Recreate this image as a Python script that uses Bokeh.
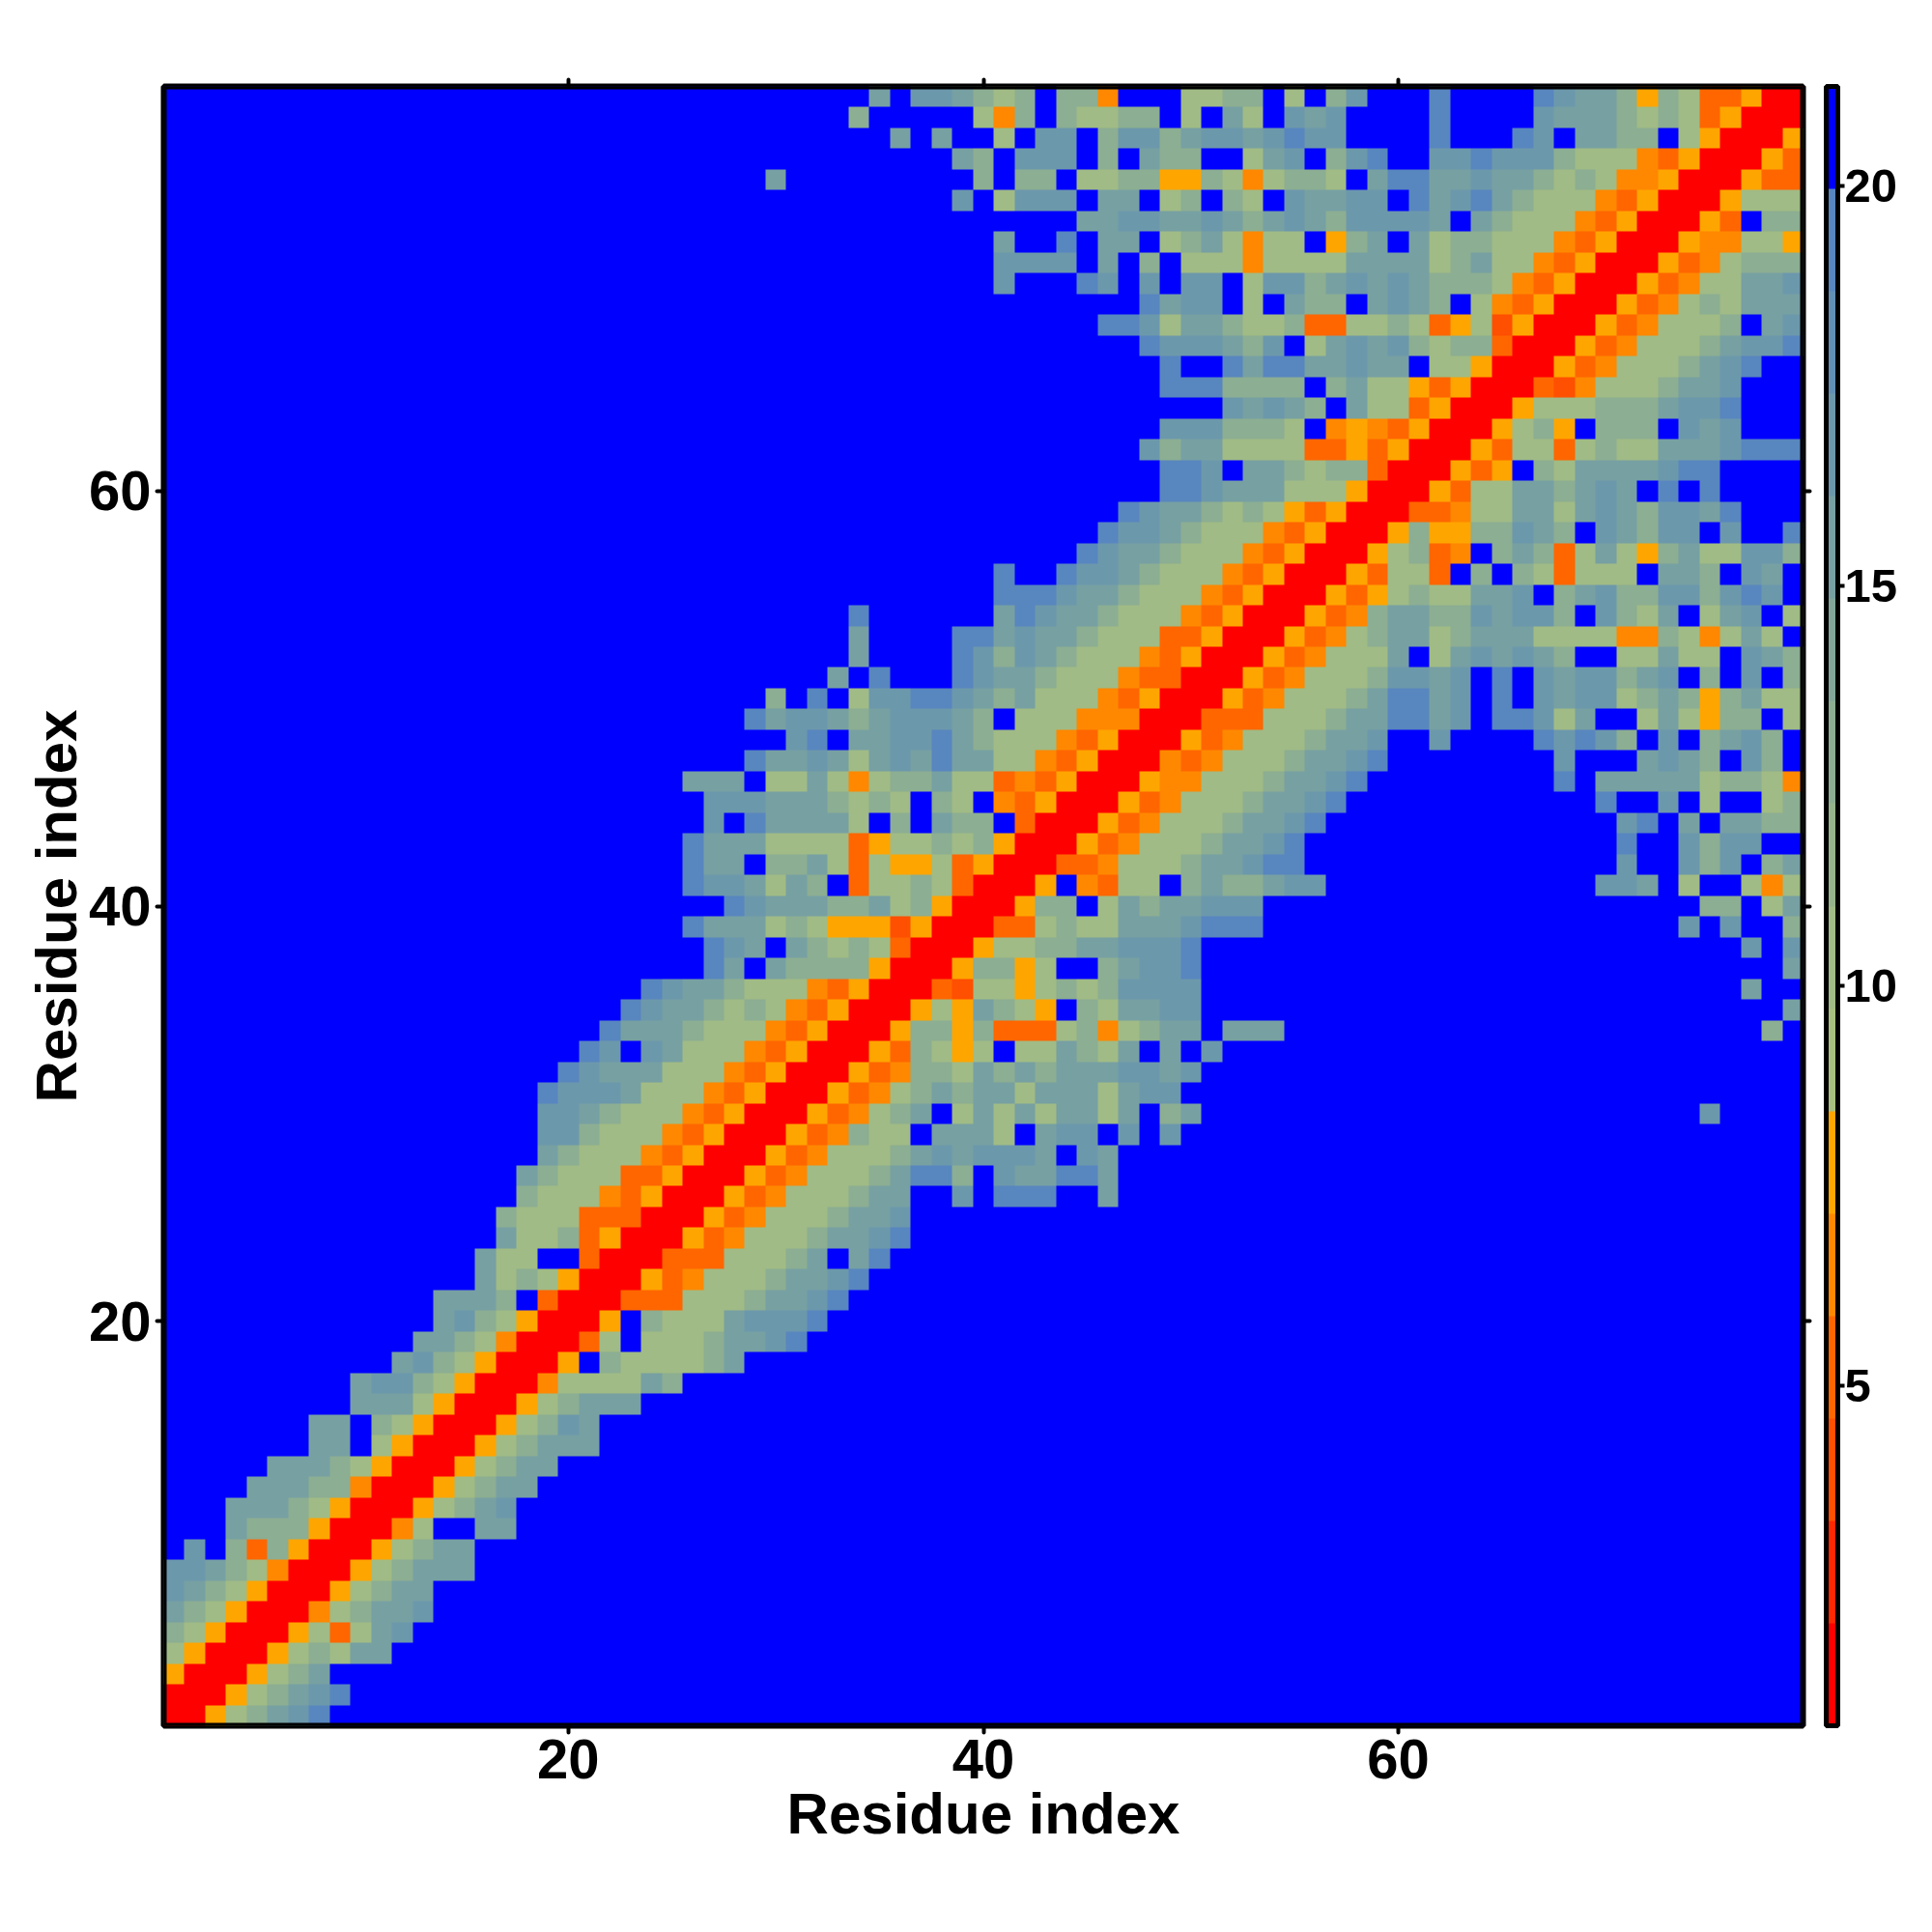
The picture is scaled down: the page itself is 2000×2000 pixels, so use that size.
from bokeh.plotting import figure
from bokeh.models import LinearAxis, FixedTicker, ColorBar, LinearColorMapper, BoxAnnotation
from bokeh.embed import file_html
from bokeh.resources import INLINE
import numpy as np

n_residues = 79
axis_ticks = [20, 40, 60]
colorbar_ticks = [5, 10, 15, 20]
axis_title = "Residue index"

palette = ["#ff0000", "#ff2800", "#ff4f00", "#ff6600", "#ff8800", "#ffa500",
           "#a8c07f", "#a0bb85", "#96b48b", "#8cae92", "#82a79a", "#77a0a3",
           "#6c98ac", "#6290b4", "#5886bf", "#0000ff"]
scale_low = 0.74
scale_high = 21.25

# letter -> distance value read against the colour bar
level_values = {"R": 1.38, "r": 3.95, "o": 5.2, "m": 6.5, "a": 7.8,
                "G": 10.3, "H": 12.9, "I": 15.5, "J": 16.8, "K": 19.3, ".": 20.6}

# residue on the y axis: (first residue on the x axis that is written, cells)
rows = {
79: (35, "I.JJIHGH.HHm...GGHH.G.HJ...K....KJIIHaHGooaRR"),
78: (34, "H.....GmH.HGGHH.G.IG.JIJ....K....JIIIHGHGoaRRR"),
77: (36, "I.I..G.JJ.HJJHIJJIJKJJ....K...KJ.IIHH.GaRRRa"),
76: (39, "IH.JJJ.H.IHH..GIJ.HJK..JJKJJJHGGGmoaRRRao"),
75: (30, "I.........H.HH.GGHHaaHGmGHHG.IKKIIJIIHGHGmmaRRRaoo"),
74: (39, "J.GJJJ.II.GH.HG.JIIJJ.KIJKIHGGGmoaRRRaGGG"),
73: (45, "IIJJIIJIHIJIHJJJJI.IHGGGmoaRRRao.HH"),
72: (41, "I..K.II.GHIGmGG.aHI.IGHHGGGmoaRRRammGGa"),
71: (41, "JJJJ.I.H.GGGmGGGGIIIIGHIGGmoaRRRaomGHHH"),
70: (41, "J...KJ.J.JJ.GJJHIJIJIHHHGmoaRRRaomGGIIJ"),
69: (48, "KIJJ.G.IHH.IJIH.GmoaRRRaomGHGIII"),
68: (46, "KKJGIIHGGHooGGHGoaGraRRRaomGGGH.IJ"),
67: (48, "KJJJIHJ.GIJIJHGHHoRRRaomGGGHIJJK"),
66: (49, "K..KIKKIIJII.GGaRRRaomGGGHIJK.."),
65: (49, "KKKHHHH.HIGGaoaRRRormGGGHIIJ..."),
64: (52, "JIJIH.IGGoaRRRaGGGHHHIJJK..."),
63: (49, "JJJHHHG.mamoaRRRaGHa.HHH.JIJ..."),
62: (48, "JHIIGGGGooaoaRRRaoGGoGHGGIIIJKKK"),
61: (49, "KKJ.IIHGHHoRRRaoa.HGIIIIJKK...."),
60: (49, "KKJIIIGGGaRRRaoGGIIHIJI.K.K...."),
59: (47, "KJIIHGHGaoaRRRoomGGIIGIJIHJJIK..."),
58: (46, "KJJIHGGGmoaRRRaHaaHHJIH.JIHJJ.J..K"),
57: (45, "KJIIHGGGmoaRRRaGHom.HIHoGIGaHIGGJJH"),
56: (41, "K..KJJIHGGGmoaRRRaoGGo.H.HGoGGG.IIH.JI."),
55: (41, "KKKJIIHGGGmoaRRRaoaGHGGIIJ.HIJHHJJHJKJ."),
54: (34, "K......IKJIIHGGGmoaRRRaomHIIHHJIJJH.JHGI.GIJ.G"),
53: (34, "I....KKIJIIHGGGooaRRRaomGHIIGHIIIGGGGmmHGmGIG."),
52: (34, "I....KJHJIHGGGmoaRRRaomGGGI.GIJIJIH..GGIGG.JIH"),
51: (33, "I.K...KJIIHGGGmooRRRaomGGGHJJIJ.K.JIJJHIJ.H.J.H"),
50: (30, "H.K.GJJKKJIHIGGGmoaRRRaomGGGHIKKIJ.K.JIJJGHIHaHIGG"),
49: (29, "KIJJIHIJJJIH.GGGmmmRRRoooGGGHIIKKIJ.KKJGI..GIGaHH.G"),
48: (31, "JK.IIJJKIHGGGmoaRRRaomGGGHIIJ..J....KJKJH.J.HIJH."),
47: (29, "KIIJIGIJIKIIGGmoaRRRmomGGGHIIJK........J...IJIH.JH."),
46: (26, "III.GGIGmGHHIGGomoaRRRammGGGHIIJK.........K.IIIIIGHHGm"),
45: (27, "JJJIIIHGHG.HG.moaRRRaomGGGHIIJK" + "." * 12 + "K..J.G..GH"),
44: (27, "J.KIIIIG.H.IHH.oRRRaomGGGHIIJK" + "." * 14 + "JK.I.IIHH"),
43: (26, "KIIIGGGGoaGGHGHaRRRaomGGGHIIJK" + "." * 15 + "K..JHJJ.."),
42: (26, "KII.HHIGoGaaGoaRRRoomGGGHIIJKK" + "." * 15 + "J..JHJ.HI"),
41: (26, "KJJIGIH.oGGHGoRRRa.moGG.HIHHIJJ" + "." * 13 + "JJI.G..GmG"),
40: (28, "KJIIIHHIGHaRRRaHH.GIHIIJJJ" + "." * 21 + "HH.GI"),
39: (26, "KIIIGHGaaaraRRRooGHGGIIIJKKK" + "." * 20 + "J.J..H"),
38: (27, "KJI.IHGHGoRRRaGGHHIIJJJK" + "." * 26 + "J.J"),
37: (27, "KI.IHHHHaRRRaHHaG..HIJJK" + "." * 28 + "I"),
36: (24, "KJIIHGGGmoaRRRorGGaGHGHJJJJ" + "." * 26 + "I.."),
35: (23, "KJIIHGHGmoaRRRaGaIHGa.HGIIJJ" + "." * 28 + "I"),
34: (22, "KIIIHGGGmoaRRRaHHaHoooGHmGHII.III" + "." * 23 + "H."),
33: (21, "KJ.JIGGGmoaRRRaoHGaG.GGIHGI.I.J"),
32: (20, "KJIIIGGGmoaRRRaomHHGIHIHIIIJJIJ"),
31: (19, "KJJJIGGGmoaRRRaomGHIHIIGIIIGIJJ"),
30: (19, "JJIHGGGmoaRRRaomGHI.GIGIGIIGI.HI" + "." * 24 + "J...."),
29: (19, "JJHGGGmoaRRRaomHGG.IIIG.IJJ.J.J"),
28: (19, "IHGGGmoaRRRaomGGGHIJIJJJI.JI"),
27: (18, "IHGGGooaRRRaomGGGHIKKH.JIIKKI"),
26: (18, "HGGGmoaRRRaomGGGHII..J.KKK..I"),
25: (17, "HGGGoooRRRaomGGGHIIJ"),
24: (17, "IGGHoaRRRaomGGGHIIJK"),
23: (16, "IGG..oRRRoooGGGHI.IK"),
22: (16, "IGHGaRRRaomGGGHIIJK"),
21: (14, "IIIH.oRRRoooGGGHIIJK"),
20: (14, "IJHGaRRRa.HGGGIJJJK"),
19: (13, "IIHGmRRRoG.GGGHIIJK"),
18: (12, "IJHGaRRRa.HGGGGHI"),
17: (10, "IJJHGaRRRmGGGGIH"),
16: (10, "IIIGaRRRaGHIII"),
15: (8, "II.HGaRRRaGHJI"),
14: (8, "II.GaRRRaGHIII"),
13: (6, "IIIHGaRRRaGHII"),
12: (5, "IIIHHmRRRaGHII"),
11: (4, "IIIHGaRRRaGHIJ"),
10: (4, "IHHHaRRRmG..II"),
9: (2, "J.HoHaRRRaGHII"),
8: (1, "JJIHGmRRRaGHIII"),
7: (1, "JIHGaRRRaGHII"),
6: (1, "IHGaRRRmGHIIJ"),
5: (1, "HGaRRRaGoGIJ"),
4: (1, "GaRRRaGHGII"),
3: (1, "aRRRaGHI"),
2: (1, "RRRaGHIJK"),
1: (1, "RRaGHIJK"),
}

z = np.full((n_residues, n_residues), level_values["."])
for residue, (first, cells) in rows.items():
    for offset, letter in enumerate(cells):
        z[residue - 1, first - 1 + offset] = level_values[letter]

FONT = "Liberation Sans"
mapper = LinearColorMapper(palette=palette, low=scale_low, high=scale_high)

p = figure(width=1990, height=1990, output_backend="svg", toolbar_location=None,
           x_range=(0.5, n_residues + 0.5), y_range=(0.5, n_residues + 0.5),
           x_axis_location=None, y_axis_location=None,
           min_border_left=169, min_border_right=124,
           min_border_top=89, min_border_bottom=204,
           background_fill_color="white", border_fill_color="white")
p.grid.visible = False
p.image(image=[z], x=0.5, y=0.5, dw=n_residues, dh=n_residues, color_mapper=mapper)
# the outline shows outside the frame, the box inside it: together a 6px frame
p.outline_line_color = "black"
p.outline_line_width = 6
p.outline_line_alpha = 1
p.add_layout(BoxAnnotation(left=0.5, right=n_residues + 0.5, bottom=0.5, top=n_residues + 0.5,
                           fill_color=None, line_color="black", line_width=6, line_alpha=1,
                           level="overlay"))


def style(axis, standoff=None, title_standoff=0):
    axis.ticker = FixedTicker(ticks=axis_ticks)
    axis.axis_line_color = None
    axis.major_tick_line_color = "black"
    axis.major_tick_line_width = 4
    axis.major_tick_line_cap = "round"
    axis.major_tick_in = 0
    axis.major_tick_out = 7
    axis.minor_tick_line_color = None
    if standoff is not None:
        axis.major_label_text_font = FONT
        axis.major_label_text_font_style = "bold"
        axis.major_label_text_font_size = "58px"
        axis.major_label_text_color = "black"
        axis.axis_label = axis_title
        axis.axis_label_text_font = FONT
        axis.axis_label_text_font_style = "bold"
        axis.axis_label_text_font_size = "60px"
        axis.axis_label_text_color = "black"
        axis.major_label_standoff = standoff
        axis.axis_label_standoff = title_standoff
    else:
        axis.major_label_text_font_size = "0px"
        axis.major_label_text_color = None
        axis.major_label_standoff = 0


bottom = LinearAxis()
left = LinearAxis()
top = LinearAxis()
right = LinearAxis()
style(bottom, 7, 0)
style(left, 6, -3)
style(top)
style(right)
left.major_label_orientation = "horizontal"
p.add_layout(bottom, "below")
p.add_layout(left, "left")
p.add_layout(top, "above")
p.add_layout(right, "right")

bar = ColorBar(color_mapper=mapper, location=(1721, 0), width=12, height=1697,
               padding=0, margin=0,
               ticker=FixedTicker(ticks=colorbar_ticks),
               major_label_text_font=FONT, major_label_text_font_style="bold",
               major_label_text_font_size="49px", major_label_text_color="black",
               label_standoff=0,
               major_tick_line_color="black", major_tick_line_width=4,
               major_tick_in=0, major_tick_out=7,
               minor_tick_line_color=None,
               bar_line_color="black", bar_line_width=5,
               border_line_color=None, background_fill_color=None)
p.add_layout(bar)

open("out.html", "w").write(file_html(p, INLINE))
